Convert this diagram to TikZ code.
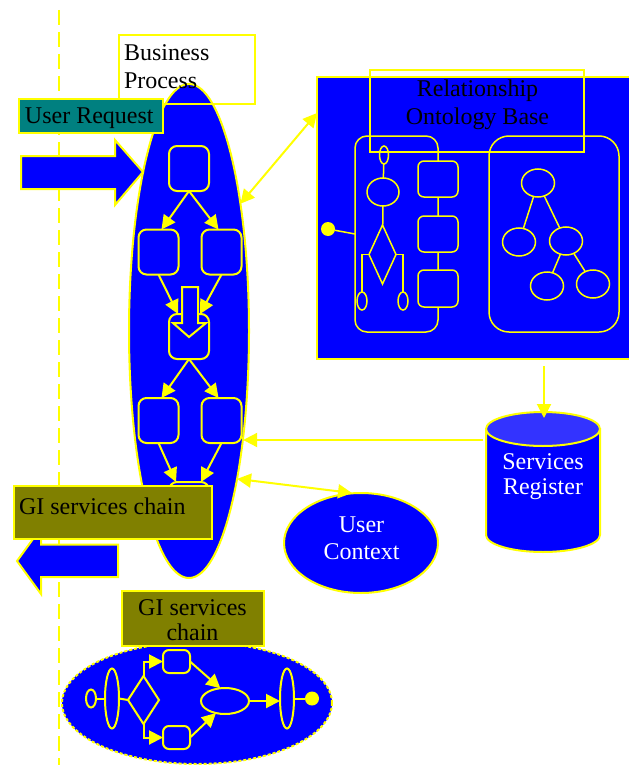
\documentclass[tikz,border=0pt]{standalone}
\usepackage{fontspec}
\setmainfont{Liberation Serif}
\usetikzlibrary{shapes.geometric,arrows.meta,calc}
\definecolor{pblue}{RGB}{0,0,255}
\definecolor{pyel}{RGB}{255,255,0}
\definecolor{pteal}{RGB}{0,128,128}
\definecolor{polive}{RGB}{128,128,0}
\definecolor{ptop}{RGB}{51,51,255}
\begin{document}
\begin{tikzpicture}[x=0.5pt,y=-0.5pt,
  yl/.style={draw=pyel,line width=1pt},
  shp/.style={yl,fill=pblue,inner sep=0pt,outer sep=0pt},
  rbox/.style={shp,rectangle,rounded corners=4pt},
  sbox/.style={shp,rectangle,rounded corners=3pt},
  oval/.style={shp,ellipse},
  dia/.style={shp,diamond},
  frame/.style={draw=pyel,line width=1pt,inner sep=0pt,outer sep=0pt,rectangle},
  thin/.style={line width=0.75pt},
  arr/.style={draw=pyel,line width=1pt,-{Triangle[length=7pt,width=7pt]}},
  darr/.style={draw=pyel,line width=1pt,{Triangle[length=7pt,width=7pt]}-{Triangle[length=7pt,width=7pt]}},
  lbl/.style={inner sep=0pt,outer sep=0pt,font=\fontsize{12}{14}\selectfont},
  ydot/.style={circle,fill=pyel,draw=none,minimum size=7pt,inner sep=0pt,outer sep=0pt}
]
\useasboundingbox (0,0) rectangle (628,765);
% swimlane line
\draw[pyel,line width=1pt,dash pattern=on 7.5pt off 3.5pt] (59,10) -- (59,765);

% ---------- Business process ----------
\node[oval,minimum width=60pt,minimum height=247pt] (bp) at (189,331) {};
\node[frame,minimum width=68pt,minimum height=34.5pt] (bpbox) at (187,69.5) {};
\node[lbl,anchor=north west,align=left] (bptext) at (124,45) {Business\\Process};

% user request arrow + label
\draw[yl,fill=pblue] (21,156) -- (115,156) -- (115,140) -- (143,172) -- (115,205) -- (115,189) -- (21,189) -- cycle;
\node[frame,fill=pteal,minimum width=72pt,minimum height=17pt] (ur) at (91,116) {};
\node[lbl,anchor=base west] (urtext) at (25,124) {User Request};

% inner flow
\node[rbox,minimum width=20pt,minimum height=22.5pt] (t1) at (189,168.5) {};
\node[rbox,minimum width=20pt,minimum height=22.5pt] (r2l) at (158.5,252) {};
\node[rbox,minimum width=20pt,minimum height=22.5pt] (r2r) at (221.5,252) {};
\node[rbox,minimum width=20pt,minimum height=22.5pt] (m) at (189,336.5) {};
\node[rbox,minimum width=20pt,minimum height=22.5pt] (r4l) at (158.5,420.5) {};
\node[rbox,minimum width=20pt,minimum height=22.5pt] (r4r) at (221.5,420.5) {};
\node[rbox,minimum width=20pt,minimum height=22.5pt] (bt) at (189,504.5) {};
\draw[arr] (t1.south) -- ($(r2l.north)+(3,0)$);
\draw[arr] (t1.south) -- ($(r2r.north)+(-3,0)$);
\draw[arr] (r2l.south) -- ($(m.north)+(-11,0)$);
\draw[arr] (r2r.south) -- ($(m.north)+(11,0)$);
\draw[yl,fill=pblue] (182,287) -- (198,287) -- (198,323) -- (206,323) -- (189,337) -- (173,323) -- (182,323) -- cycle;
\draw[arr] (m.south) -- ($(r4l.north)+(3,0)$);
\draw[arr] (m.south) -- ($(r4r.north)+(-3,0)$);
\draw[arr] (r4l.south) -- ($(bt.north)+(-13,0)$);
\draw[arr] (r4r.south) -- ($(bt.north)+(12,0)$);

% ---------- Relationship Ontology Base ----------
\node[shp,rectangle,minimum width=157.5pt,minimum height=141pt] (rob) at (474.5,218) {};
\node[draw=pyel,thin,rectangle,rounded corners=6pt,minimum width=41.5pt,minimum height=98pt,inner sep=0pt,outer sep=0pt] (lc) at (396.5,234) {};
\node[draw=pyel,thin,rectangle,rounded corners=10pt,minimum width=65pt,minimum height=98pt,inner sep=0pt,outer sep=0pt] (rc) at (554,234) {};
\node[sbox,thin,minimum width=20pt,minimum height=18pt] (rb1) at (438,179) {};
\node[sbox,thin,minimum width=20pt,minimum height=18pt] (rb2) at (438,234) {};
\node[sbox,thin,minimum width=20pt,minimum height=18.5pt] (rb3) at (438,288.5) {};
\node[oval,thin,minimum width=4.5pt,minimum height=9pt] (oa) at (384,155) {};
\node[oval,thin,minimum width=16pt,minimum height=14pt] (ob) at (383,192) {};
\node[dia,thin,minimum width=13.5pt,minimum height=29.5pt] (dd) at (382.5,254.5) {};
\node[oval,thin,minimum width=5pt,minimum height=9pt] (oc) at (362,301) {};
\node[oval,thin,minimum width=5pt,minimum height=9pt] (od) at (403,301) {};
\draw[yl,thin] (oa) -- (ob);
\draw[yl,thin] (ob) -- (dd);
\draw[yl,thin] (dd.west) -| (oc.north);
\draw[yl,thin] (dd.east) -| (od.north);
\node[ydot] (rdot) at (328,229) {};
\draw[yl,thin] (rdot) -- (lc.west);
\node[oval,thin,minimum width=16.5pt,minimum height=14pt] (tr) at (538,183) {};
\node[oval,thin,minimum width=16.5pt,minimum height=14pt] (tl) at (519,242) {};
\node[oval,thin,minimum width=16.5pt,minimum height=14pt] (trr) at (566,241) {};
\node[oval,thin,minimum width=16.5pt,minimum height=14pt] (g1) at (547,286) {};
\node[oval,thin,minimum width=16.5pt,minimum height=14pt] (g2) at (593,284) {};
\draw[yl,thin] (tr) -- (tl);
\draw[yl,thin] (tr) -- (trr);
\draw[yl,thin] (trr) -- (g1);
\draw[yl,thin] (trr) -- (g2);
\node[frame,minimum width=107pt,minimum height=41pt] (robt) at (477,111) {};
\node[lbl,anchor=north,align=center] (robtext) at (477.5,79.5) {Relationship\\Ontology Base};
\draw[darr] (bp.68.7) -- (rob.west |- 0,113);

% ---------- Services Register ----------
\draw[yl,fill=pblue] (486,429) -- (486,535) arc[start angle=180,end angle=0,x radius=57,y radius=17] -- (600,429) -- cycle;
\draw[yl,fill=ptop] (543,429) ellipse[x radius=57,y radius=17];
\node[lbl,anchor=north,align=center,text=white,font=\fontsize{12}{12.8}\selectfont] (sr) at (543,453.5) {Services\\Register};
\coordinate (srtop) at (544,418);
\coordinate (srleft) at (483,440);
\draw[arr] ($(rob.south -| srtop)+(0,7)$) -- (srtop);
\draw[arr] (srleft) -- (bp.-63.7 |- srleft);

% ---------- User Context ----------
\node[oval,minimum width=77pt,minimum height=50pt] (uc) at (361,543) {};
\node[lbl,anchor=north,align=center,text=white,font=\fontsize{12}{13.6}\selectfont] (uctext) at (361.5,516.5) {User\\Context};
\draw[darr] (bp.-72.5) -- ($(uc.north)+(-9,0)$);

% ---------- GI services chain (output) ----------
\draw[yl,fill=pblue] (17,561) -- (41,528) -- (41,544.5) -- (118,544.5) -- (118,577) -- (41,577) -- (41,594) -- cycle;
\node[frame,fill=polive,minimum width=99pt,minimum height=26.5pt] (gi1) at (113,512.5) {};
\node[lbl,anchor=base west] (gi1text) at (19,514) {GI services chain};

% ---------- GI services chain (detail) ----------
\node[oval,dash pattern=on 1.5pt off 1pt,minimum width=135pt,minimum height=61pt] (gie) at (197,703) {};
\node[oval,minimum width=5pt,minimum height=9pt] (e0) at (91,698.5) {};
\node[oval,minimum width=7pt,minimum height=30pt] (e1) at (112,698.5) {};
\node[dia,minimum width=15.5pt,minimum height=24pt] (d) at (143.5,700) {};
\node[sbox,minimum width=13.5pt,minimum height=11.5pt] (tb) at (176.5,661.5) {};
\node[sbox,minimum width=13.5pt,minimum height=11.5pt] (bb) at (176.5,737.5) {};
\node[oval,minimum width=24pt,minimum height=13pt] (e2) at (225,701) {};
\node[oval,minimum width=7pt,minimum height=30pt] (e3) at (287,698.5) {};
\node[ydot] (dot2) at (312,698.5) {};
\draw[yl] (e0) -- (e1);
\draw[yl] (e1.east) -- (d.west);
\draw[arr] (d.north) |- (tb.west);
\draw[arr] (d.south) |- (bb.west);
\draw[arr] (tb.east) -- (e2.110);
\draw[arr] (bb.east) -- (e2.233);
\draw[arr] (e2.east) -- (e3.west |- e2.east);
\draw[yl] (e3.east) -- (dot2);
\node[frame,fill=polive,minimum width=71pt,minimum height=27.5pt] (gi2) at (193,618.5) {};
\node[lbl,anchor=north,align=center,font=\fontsize{12}{12.2}\selectfont] (gi2text) at (192.5,600) {GI services\\chain};
\end{tikzpicture}
\end{document}
